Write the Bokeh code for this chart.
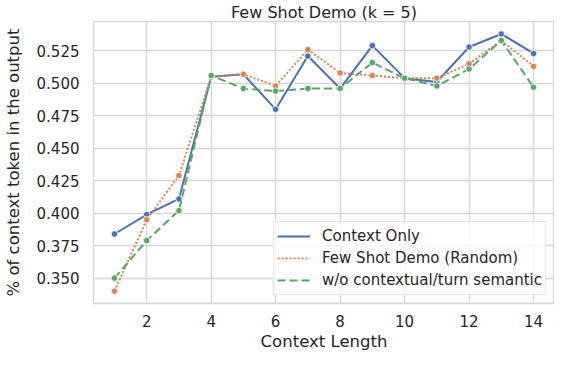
from bokeh.plotting import figure
from bokeh.models import Range1d, FixedTicker, Legend, LegendItem, NumeralTickFormatter, Title
from bokeh.embed import file_html
from bokeh.resources import INLINE

context_length = [1, 2, 3, 4, 5, 6, 7, 8, 9, 10, 11, 12, 13, 14]
context_only = [0.384, 0.399, 0.411, 0.505, 0.507, 0.480, 0.521, 0.496, 0.529, 0.504, 0.501, 0.528, 0.538, 0.523]
few_shot_random = [0.340, 0.395, 0.429, 0.505, 0.507, 0.498, 0.526, 0.508, 0.506, 0.504, 0.504, 0.515, 0.533, 0.513]
wo_semantic = [0.350, 0.379, 0.402, 0.506, 0.496, 0.494, 0.496, 0.496, 0.516, 0.504, 0.498, 0.511, 0.533, 0.497]

series_labels = ["Context Only", "Few Shot Demo (Random)", "w/o contextual/turn semantic"]
x_ticks = [2, 4, 6, 8, 10, 12, 14]
y_ticks = [0.350, 0.375, 0.400, 0.425, 0.450, 0.475, 0.500, 0.525]
x_title = "Context Length"
y_title = "% of context token in the output"

FONT = "DejaVu Sans"
TXT = "#262626"
GRID = "#d6d6d6"

p = figure(width=554, height=350, output_backend="svg", toolbar_location=None,
           x_range=Range1d(0.35, 14.65), y_range=Range1d(0.3305, 0.5476),
           title="Few Shot Demo (k = 5)")
p.min_border_left = 0
p.min_border_right = 0
p.min_border_top = 0
p.min_border_bottom = 0
p.background_fill_color = "white"
p.border_fill_color = "white"
p.outline_line_color = GRID
p.outline_line_width = 1.3

p.title.text_font = FONT
p.title.text_font_size = "16px"
p.title.text_font_style = "normal"
p.title.text_color = TXT
p.title.align = "center"
p.title.standoff = 0
p.title.offset = 0

for ax in (p.xaxis[0], p.yaxis[0]):
    ax.axis_line_color = None
    ax.major_tick_line_color = None
    ax.minor_tick_line_color = None
    ax.major_tick_out = 0
    ax.major_tick_in = 0
    ax.minor_tick_out = 0
    ax.minor_tick_in = 0
    ax.major_label_text_font = FONT
    ax.major_label_text_font_size = "15px"
    ax.major_label_text_color = TXT
    ax.axis_label_text_font = FONT
    ax.axis_label_text_font_size = "16.5px"
    ax.axis_label_text_font_style = "normal"
    ax.axis_label_text_color = TXT

p.xaxis.ticker = FixedTicker(ticks=x_ticks)
p.yaxis.ticker = FixedTicker(ticks=y_ticks)
p.yaxis.formatter = NumeralTickFormatter(format="0.000")
p.yaxis.axis_label = y_title
p.xaxis.major_label_standoff = 11
p.yaxis.major_label_standoff = 14
p.yaxis.axis_label_standoff = 11

p.grid.grid_line_color = GRID
p.grid.grid_line_width = 1.3

xt = Title(text=x_title, align="center", text_font=FONT, text_font_size="16.5px",
           text_font_style="normal", text_color=TXT, standoff=0, offset=0)
p.add_layout(xt, "below")

colors = ["#4C72B0", "#DD8452", "#55A868"]
dashes = ["solid", "2 2", "8 4"]
all_series = [context_only, few_shot_random, wo_semantic]

items = []
for lab, ys, c, d in zip(series_labels, all_series, colors, dashes):
    lr = p.line(context_length, ys, line_color=c, line_width=2, line_dash=d)
    p.scatter(context_length, ys, size=6.5, fill_color=c, line_color="white", line_width=0.8)
    items.append(LegendItem(label=lab, renderers=[lr]))

legend = Legend(items=items, location="bottom_right")
legend.margin = 8
legend.padding = 3
legend.spacing = 0
legend.label_height = 22
legend.glyph_height = 22
legend.glyph_width = 33
legend.label_standoff = 12
legend.label_text_font = FONT
legend.label_text_font_size = "15px"
legend.label_text_color = TXT
legend.border_line_color = "#d0d0d0"
legend.border_line_width = 1
legend.background_fill_alpha = 0.8
p.add_layout(legend)

open("out.html", "w").write(file_html(p, INLINE))
